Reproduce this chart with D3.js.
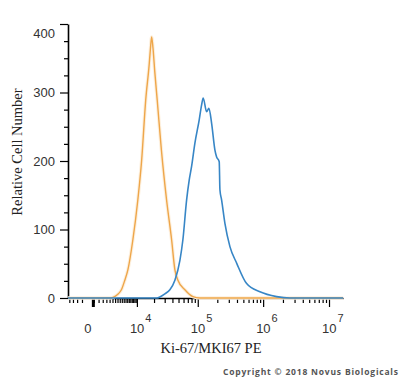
<!DOCTYPE html>
<html>
<head>
<meta charset="utf-8">
<script src="https://cdn.jsdelivr.net/npm/d3@7"></script>
<style>
  body { margin: 0; background: #fff; }
  svg { display: block; }
  .tick text { font-family: "Liberation Sans", Arial, sans-serif; font-size: 13px; fill: #333; }
</style>
</head>
<body>
<svg id="chart"></svg>
<script>
// ======================
// DATA
// ======================

// orange: control histogram
const controlFluor = [-2200, 2500, 3100, 4000, 4900, 5800, 6700, 8400, 10400, 12200, 14400,
    16500, 17300, 18200, 19200, 20500, 22600, 26500, 32200, 38800, 43800, 48900, 63000,
    84000, 108000, 16300000];
const controlCount = [0, 0, 1, 5, 12, 26, 41, 85, 143, 201, 289,
    340, 362, 381, 365, 332, 289, 216, 143, 85, 41, 26, 12,
    2, 0, 0];

// blue: Ki-67 histogram
const ki67Fluor = [-2200, 22300, 25000, 30200, 36400, 43800, 52600, 58600, 67000, 73600,
    80200, 90300, 105300, 114700, 121400, 137000, 148600, 163600, 183900, 195200, 214000,
    219400, 233000, 261600, 312000, 395000, 561000, 894000, 1604000, 2552000, 16300000];
const ki67Count = [0, 0, 1.5, 6, 12, 26, 55, 85, 143, 172,
    192, 226, 260, 282, 292, 272, 277, 255, 216, 206, 199,
    158, 143, 109, 75, 51, 21, 9, 2, 0, 0];

const yMajorTicks = [0, 100, 200, 300, 400];
const xMajorTicks = [0, 1e4, 1e5, 1e6, 1e7];
const xTickExponents = ["", "4", "5", "6", "7"];

// ======================
// SETUP
// ======================

const width = 400;
const height = 378;
const svg = d3.select("#chart").attr("width", width).attr("height", height);

const plot = { left: 68, right: 343, top: 24, bottom: 298 };

// biexponential-like display, approximated with symlog
const x = d3.scaleSymlog()
    .constant(2200)
    .domain([-2200, 16300000])
    .range([plot.left, plot.right]);

const y = d3.scaleLinear()
    .domain([0, 400])
    .range([plot.bottom, plot.top]);

// ======================
// AXES
// ======================

const yMinor = d3.range(0, 401, 25).filter(d => d % 100 !== 0);
svg.append("g")
    .attr("transform", `translate(${plot.left},0)`)
    .call(d3.axisLeft(y).tickValues(yMinor).tickSize(4).tickSizeOuter(0).tickFormat(""))
    .call(g => g.select(".domain").remove())
    .call(g => g.selectAll(".tick line").attr("stroke-width", 1.2));

const yAxisG = svg.append("g")
    .attr("transform", `translate(${plot.left},0)`)
    .call(d3.axisLeft(y).tickValues(yMajorTicks).tickSize(8).tickSizeOuter(0).tickPadding(5));
yAxisG.select(".domain").attr("stroke-width", 1.6);
yAxisG.selectAll(".tick line").attr("stroke-width", 1.2);
yAxisG.selectAll(".tick text").filter(d => d === 400).attr("y", 9);

// x minor ticks: linear part near zero + log decades
const xMinor = d3.range(-2000, 10000, 500).filter(d => d !== 0)
    .concat([1e4, 1e5, 1e6].flatMap(dec => d3.range(2, 10).map(m => m * dec)));
svg.append("g")
    .attr("transform", `translate(0,${plot.bottom})`)
    .call(d3.axisBottom(x).tickValues(xMinor).tickSize(5).tickSizeOuter(0).tickFormat(""))
    .call(g => g.select(".domain").remove())
    .call(g => g.selectAll(".tick line").attr("stroke-width", 1.2));

const xAxisG = svg.append("g")
    .attr("transform", `translate(0,${plot.bottom})`)
    .call(d3.axisBottom(x).tickValues(xMajorTicks).tickSize(9).tickSizeOuter(0).tickFormat(""));
xAxisG.select(".domain").attr("stroke-width", 1.6);
xAxisG.selectAll(".tick line").attr("stroke-width", 1.2);
xAxisG.selectAll(".tick line").filter(d => d === 0).attr("stroke-width", 3).attr("transform", "translate(5,0)");

// x tick labels with superscripts
const xLabels = svg.append("g")
    .attr("font-family", "Liberation Sans, Arial, sans-serif")
    .attr("fill", "#333");
xMajorTicks.forEach((v, i) => {
    const t = xLabels.append("text").attr("y", 333);
    if (v === 0) {
        t.attr("x", x(v)).attr("text-anchor", "middle").attr("font-size", 13).text("0");
    } else {
        t.attr("x", x(v) - 7).attr("font-size", 13);
        t.append("tspan").text("10");
        t.append("tspan").attr("dx", 1).attr("dy", -11).attr("font-size", 11).text(xTickExponents[i]);
    }
});

// ======================
// HISTOGRAM LINES
// ======================

const line = d3.line()
    .x(d => x(d[0]))
    .y(d => y(d[1]))
    .curve(d3.curveMonotoneX);

const controlSeries = controlFluor.map((f, i) => [f, controlCount[i]]);
const ki67Series = ki67Fluor.map((f, i) => [f, ki67Count[i]]);

svg.append("path")
    .datum(controlSeries)
    .attr("fill", "none")
    .attr("stroke", "#fdf0de")
    .attr("stroke-width", 3.5)
    .attr("d", line);
svg.append("path")
    .datum(controlSeries)
    .attr("fill", "none")
    .attr("stroke", "#eea64a")
    .attr("stroke-width", 1.4)
    .attr("d", line);

svg.append("path")
    .datum(ki67Series)
    .attr("fill", "none")
    .attr("stroke", "#3786c6")
    .attr("stroke-width", 1.6)
    .attr("d", line);

// ======================
// TITLES
// ======================

svg.append("text")
    .attr("transform", `translate(22,${(plot.top + plot.bottom) / 2 - 9}) rotate(-90)`)
    .attr("text-anchor", "middle")
    .attr("font-family", "Liberation Serif, Times New Roman, serif")
    .attr("font-size", 14.5)
    .attr("fill", "#222")
    .text("Relative Cell Number");

svg.append("text")
    .attr("x", 211)
    .attr("y", 353)
    .attr("text-anchor", "middle")
    .attr("font-family", "Liberation Serif, Times New Roman, serif")
    .attr("font-size", 14.5)
    .attr("fill", "#222")
    .text("Ki-67/MKI67 PE");

svg.append("text")
    .attr("x", 223)
    .attr("y", 375)
    .attr("textLength", 175)
    .attr("lengthAdjust", "spacing")
    .attr("font-family", "Open Sans, Liberation Sans, sans-serif")
    .attr("font-size", 8.5)
    .attr("font-weight", "bold")
    .attr("fill", "#555")
    .text("Copyright © 2018 Novus Biologicals");
</script>
</body>
</html>
